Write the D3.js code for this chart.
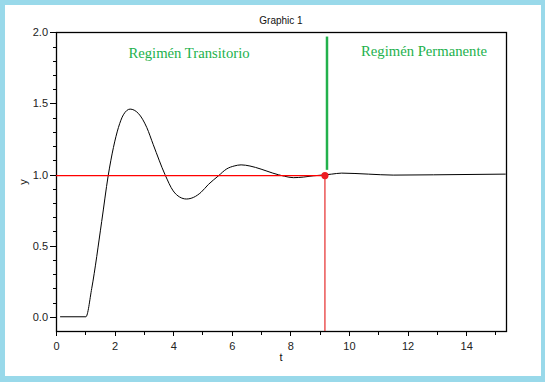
<!DOCTYPE html>
<html>
<head>
<meta charset="utf-8">
<script src="https://cdn.jsdelivr.net/npm/d3@7"></script>
<style>
  html, body { margin: 0; padding: 0; background: #99d9ea; }
  svg { display: block; }
</style>
</head>
<body>
<svg id="chart" width="545" height="382"></svg>
<script>
// ---- data ----
const tValues = [0.14, 1.02, 1.22, 1.56, 1.78, 1.96, 2.13, 2.30, 2.53, 2.81, 3.10, 3.32, 3.72, 4.00, 4.22, 4.45, 4.70, 4.95, 5.20, 5.54, 5.83, 6.08, 6.32, 6.62, 7.00, 7.40, 7.80, 8.10, 8.44, 8.78, 9.18, 9.41, 9.75, 10.66, 11.51, 12.88, 15.35];
const yValues = [0, 0, 0.20, 0.67, 0.99, 1.19, 1.33, 1.42, 1.46, 1.43, 1.33, 1.21, 1.00, 0.885, 0.842, 0.828, 0.84, 0.875, 0.93, 0.99, 1.04, 1.06, 1.068, 1.06, 1.038, 1.01, 0.988, 0.978, 0.982, 0.991, 0.998, 1.003, 1.01, 1.003, 0.996, 0.998, 1.003];
const xTickValues = [0, 2, 4, 6, 8, 10, 12, 14];
const yTickValues = [0.0, 0.5, 1.0, 1.5, 2.0];
const referenceLevel = [0.993];       // red horizontal line
const settlingTime = [9.18];          // red vertical line + dot
const boundaryTime = [9.25];          // green separator
const boundaryRange = [1.033, 1.97];
const regionLabels = ["Regimén Transitorio", "Regimén Permanente"];
const titleText = "Graphic 1";
const xLabel = "t", yLabel = "y";

const svg = d3.select("#chart");
svg.append("rect").attr("x", 5).attr("y", 5).attr("width", 536).attr("height", 371).attr("fill", "#fff");

const mL = 56, mR = 506, mT = 32, mB = 331;
const x = d3.scaleLinear().domain([0, 15.36]).range([mL, mR]);
const y = d3.scaleLinear().domain([-0.1, 2.0]).range([mB, mT + 0.3]);

const font = "'Liberation Sans', Arial, sans-serif";

// axes
const xMinor = d3.range(0, 16, 1);
const yMinor = d3.range(0, 21, 1).map(d => d / 10);

const gx = svg.append("g").attr("transform", `translate(0,${mB})`);
gx.call(d3.axisBottom(x).tickValues(xMinor).tickSize(4).tickFormat(""));
gx.call(g => g.select(".domain").remove());
const gx2 = svg.append("g").attr("transform", `translate(0,${mB})`)
  .call(d3.axisBottom(x).tickValues(xTickValues).tickSize(5).tickPadding(6).tickFormat(d3.format("d")));
gx2.select(".domain").remove();
gx2.selectAll("text").attr("font-family", font).attr("font-size", 11).attr("fill", "#222");

const gy = svg.append("g").attr("transform", `translate(${mL},0)`);
gy.call(d3.axisLeft(y).tickValues(yMinor).tickSize(3.5).tickFormat(""));
gy.call(g => g.select(".domain").remove());
const gy2 = svg.append("g").attr("transform", `translate(${mL},0)`)
  .call(d3.axisLeft(y).tickValues(yTickValues).tickSize(6).tickPadding(2).tickFormat(d3.format(".1f")));
gy2.select(".domain").remove();
gy2.selectAll("text").attr("font-family", font).attr("font-size", 11).attr("fill", "#222");

svg.selectAll(".tick line").attr("stroke", "#000").attr("shape-rendering", "crispEdges");

// frame
svg.append("rect").attr("x", mL + 0.5).attr("y", mT + 0.5)
  .attr("width", mR - mL).attr("height", mB - mT)
  .attr("fill", "none").attr("stroke", "#000").attr("stroke-width", 1.3);

// title & labels
svg.append("text").attr("x", 281).attr("y", 24).attr("text-anchor", "middle")
  .attr("font-family", font).attr("font-size", 10).attr("fill", "#111").text(titleText);
svg.append("text").attr("x", 281).attr("y", 361).attr("text-anchor", "middle")
  .attr("font-family", font).attr("font-size", 11).attr("fill", "#111").text(xLabel);
svg.append("text").attr("transform", "translate(27,182) rotate(-90)").attr("text-anchor", "middle")
  .attr("font-family", font).attr("font-size", 11).attr("fill", "#111").text(yLabel);

// response curve
const pts = tValues.map((t, i) => [t, yValues[i]]);
svg.append("path").datum(pts)
  .attr("d", d3.line().x(d => x(d[0])).y(d => y(d[1])).curve(d3.curveMonotoneX))
  .attr("fill", "none").attr("stroke", "#000").attr("stroke-width", 1);

// reference lines
svg.append("line").attr("x1", x(0)).attr("x2", x(settlingTime[0]))
  .attr("y1", y(referenceLevel[0])).attr("y2", y(referenceLevel[0]))
  .attr("stroke", "#ff0000").attr("stroke-width", 1.3);
svg.append("line").attr("x1", x(settlingTime[0])).attr("x2", x(settlingTime[0]))
  .attr("y1", y(referenceLevel[0])).attr("y2", mB)
  .attr("stroke", "#e00000").attr("stroke-width", 1);

// green separator
svg.append("line").attr("x1", x(boundaryTime[0])).attr("x2", x(boundaryTime[0]))
  .attr("y1", y(boundaryRange[1])).attr("y2", y(boundaryRange[0]))
  .attr("stroke", "#22b14c").attr("stroke-width", 2.5);

// dot
svg.append("circle").attr("cx", x(settlingTime[0])).attr("cy", y(referenceLevel[0]))
  .attr("r", 3.6).attr("fill", "#ed1c24");

// region labels
const serif = "'Liberation Serif', 'Times New Roman', serif";
svg.append("text").attr("x", 189).attr("y", 58).attr("text-anchor", "middle")
  .attr("font-family", serif).attr("font-size", 14.7).attr("fill", "#22b14c").text(regionLabels[0]);
svg.append("text").attr("x", 424).attr("y", 56).attr("text-anchor", "middle")
  .attr("font-family", serif).attr("font-size", 14.7).attr("fill", "#22b14c").text(regionLabels[1]);
</script>
</body>
</html>
